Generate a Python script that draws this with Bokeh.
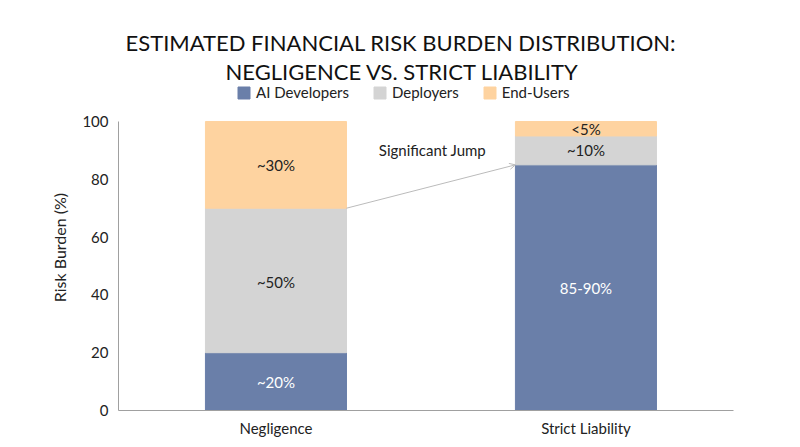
from bokeh.models import (ColumnDataSource, Range1d, FixedTicker, Arrow, OpenHead, Label,
                          Title, Legend, LegendItem)
from bokeh.plotting import figure
from bokeh.core.properties import value
from bokeh.embed import file_html
from bokeh.resources import INLINE

categories = ["Negligence", "Strict Liability"]
groups = ["AI Developers", "Deployers", "End-Users"]
developers = [20, 85]
deployers = [50, 10]
end_users = [30, 5]
dev_text = ["~20%", "85-90%"]
dep_text = ["~50%", "~10%"]
end_text = ["~30%", "<5%"]

colors = ["#6a7fa9", "#d4d4d4", "#fed3a0"]
FONT = "Lato"
FS = "15px"

xs = list(range(len(categories)))
source = ColumnDataSource(dict(x=xs, dev=developers, dep=deployers, end=end_users))

# frame reaches up to the legend row; the axis itself stops at 100
p = figure(width=800, height=447, output_backend="svg", toolbar_location=None,
           x_range=Range1d(-0.508, 1.476), y_range=Range1d(0, 112.8),
           min_border_left=118, min_border_right=67, min_border_top=84, min_border_bottom=37)
p.outline_line_color = None
p.grid.grid_line_color = None

bar_w = 0.455
bars = p.vbar_stack(["dev", "dep", "end"], x="x", width=bar_w, color=colors, source=source)

# labels inside the segments
lab_x, lab_y, lab_t, lab_c = [], [], [], []
for i in xs:
    lab_x += [i, i, i]
    lab_y += [developers[i] / 2, developers[i] + deployers[i] / 2,
              developers[i] + deployers[i] + end_users[i] / 2]
    lab_t += [dev_text[i], dep_text[i], end_text[i]]
    lab_c += ["white", "#222222", "#222222"]
lab_y[1] = 44.5
lab_y[0] = 10
p.text(x=lab_x, y=lab_y, text=lab_t, text_color=lab_c, text_align="center",
       text_baseline="middle", text_font=value(FONT), text_font_size=FS)

# jump arrow
p.add_layout(Arrow(x_start=xs[0] + bar_w / 2, y_start=developers[0] + deployers[0],
                   x_end=xs[1] - bar_w / 2, y_end=developers[1],
                   line_color="#bbbbbb", line_width=1,
                   end=OpenHead(size=6, line_color="#bbbbbb", line_width=1)))
p.add_layout(Label(x=0.505, y=90, text="Significant Jump", text_align="center",
                   text_baseline="middle", text_font=FONT, text_font_size=FS,
                   text_color="#222222"))

# axes
p.xaxis.ticker = FixedTicker(ticks=xs)
p.xaxis.major_label_overrides = {i: c for i, c in zip(xs, categories)}
p.yaxis.ticker = FixedTicker(ticks=[0, 20, 40, 60, 80, 100])
p.yaxis.bounds = (0, 100)
for ax in (p.xaxis, p.yaxis):
    ax.axis_line_color = "#a0a0a0"
    ax.major_tick_line_color = None
    ax.minor_tick_line_color = None
    ax.major_tick_out = 0
    ax.major_label_text_font = FONT
    ax.major_label_text_font_size = FS
    ax.major_label_text_color = "#222222"
p.xaxis.major_label_standoff = 8
p.yaxis.major_label_standoff = 10
p.yaxis.axis_label = "Risk Burden (%)"
p.yaxis.axis_label_text_font = FONT
p.yaxis.axis_label_text_font_size = "16px"
p.yaxis.axis_label_text_font_style = "normal"
p.yaxis.axis_label_text_color = "#222222"
p.yaxis.axis_label_standoff = 10

# legend row, inside the top strip of the frame
items = [LegendItem(label=g, renderers=[r]) for g, r in zip(groups, bars)]
lg = Legend(items=items, orientation="horizontal", location=(118, 309),
            border_line_color=None, background_fill_alpha=0, padding=0, margin=0,
            spacing=23, glyph_width=15, glyph_height=15, label_height=15, label_width=0,
            label_standoff=5, label_text_font=FONT, label_text_font_size=FS,
            label_text_color="#222222")
p.add_layout(lg)

# two-line title
p.add_layout(Title(text="NEGLIGENCE VS. STRICT LIABILITY", align="left", offset=107,
                   text_font=FONT, text_font_size="22px", text_font_style="normal",
                   text_color="#111111", standoff=0), "above")
p.add_layout(Title(text="ESTIMATED FINANCIAL RISK BURDEN DISTRIBUTION:", align="left", offset=7,
                   text_font=FONT, text_font_size="22px", text_font_style="normal",
                   text_color="#111111", standoff=0), "above")

open("out.html", "w").write(file_html(p, INLINE))
